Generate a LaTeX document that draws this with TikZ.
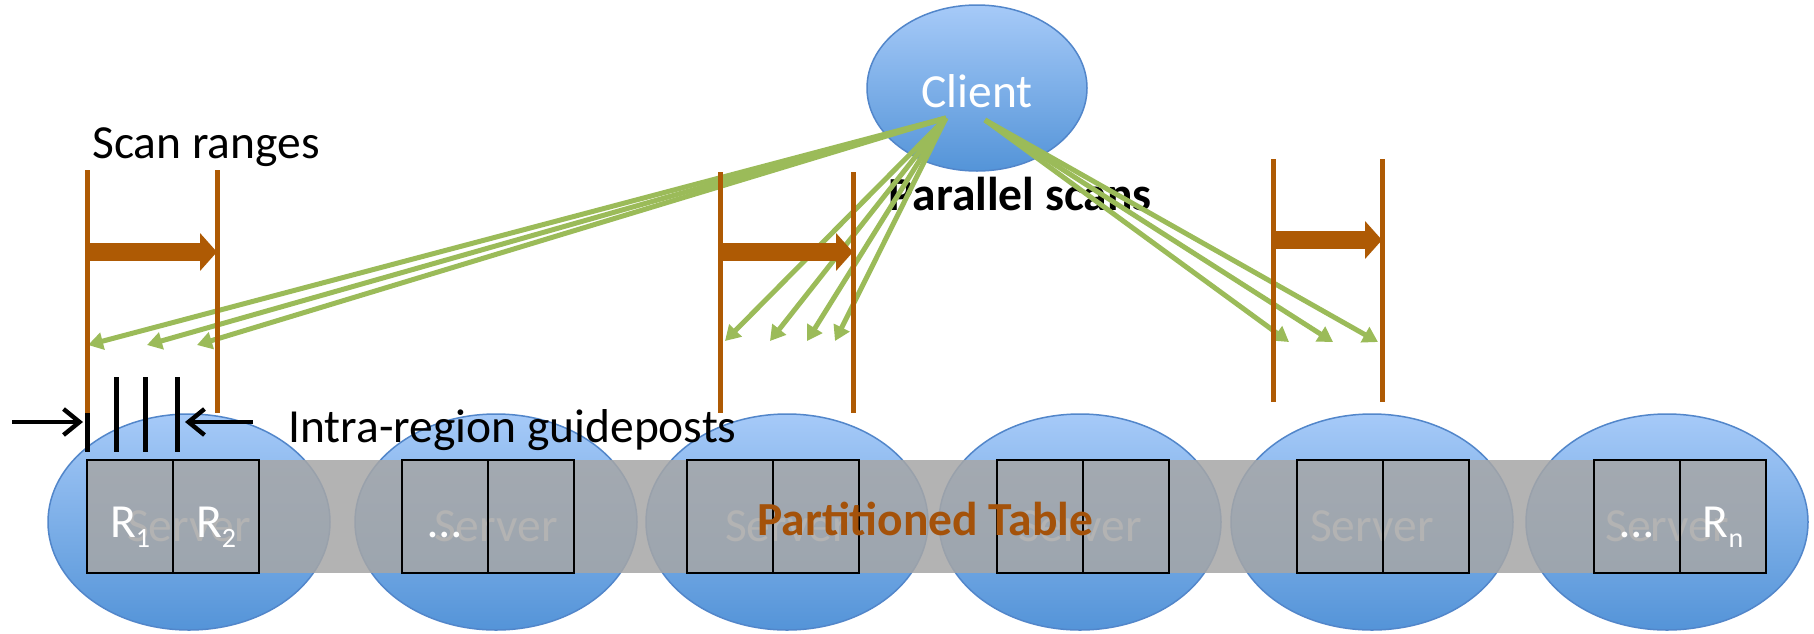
\documentclass[tikz,border=0pt]{standalone}
\usepackage{fontspec}
\setmainfont{Carlito}
\usetikzlibrary{arrows.meta,shapes.geometric}
\definecolor{org}{RGB}{174,90,4}
\definecolor{ptc}{RGB}{164,82,10}
\definecolor{grn}{RGB}{155,187,89}
\definecolor{btop}{RGB}{166,202,248}
\definecolor{bbot}{RGB}{84,148,216}
\definecolor{bord}{RGB}{82,134,202}
\definecolor{bandc}{RGB}{166,166,166}
\newcommand\tfs{\fontsize{23.75pt}{28pt}\selectfont}
\newcommand\subfs{\fontsize{14pt}{16pt}\selectfont}
\begin{document}
\begin{tikzpicture}[x=0.5pt,y=-0.5pt,
  blob/.style={ellipse, draw=bord, line width=0.75pt, top color=btop, bottom color=bbot, inner sep=0pt},
  server/.style={blob, minimum width=141pt, minimum height=108pt},
  wtxt/.style={text=white, font=\tfs, anchor=base, inner sep=0pt},
  region/.style={draw=black, line width=1pt, minimum width=43pt, minimum height=56.5pt, inner sep=0pt},
  lbl/.style={text=black, font=\tfs, anchor=base west, inner sep=0pt},
  orline/.style={draw=org, line width=2.5pt},
  thickarr/.style={draw=org, line width=9pt, -{Triangle[length=8.5pt,width=18.5pt]}},
  garrow/.style={draw=grn, line width=2.5pt, -{Triangle[length=7.5pt,width=8.5pt]}},
  gpost/.style={draw=black, line width=2.5pt},
  barrow/.style={draw=black, line width=2.2pt, -{Straight Barb[length=8pt,width=13pt]}}
]
\useasboundingbox (0,0) rectangle (1814,633);
\fill[white] (0,0) rectangle (1814,633);

% servers
\foreach \i/\cx in {1/189,2/496,3/787,4/1080,5/1372,6/1667} {
  \node[server] (s\i) at (\cx,522) {};
  \node[wtxt] (st\i) at (\cx,541) {Server};
}
% partitioned table band
\fill[bandc, opacity=0.85] (87,460) rectangle (1766,573);
\foreach \g/\x in {1/87,2/402,3/687,4/997,5/1297,6/1594} {
  \node[region] (b\g a) at (\x+43,516.5) {};
  \node[region] (b\g b) at (\x+129,516.5) {};
}
\node[wtxt] (r1) at (130,537) {R\raisebox{-5pt}{\subfs 1}};
\node[wtxt] (r2) at (216,537) {R\raisebox{-5pt}{\subfs 2}};
\node[wtxt] (d1) at (445,537) {…};
\node[wtxt] (d2) at (1637,537) {…};
\node[wtxt] (rn) at (1723,537) {R\raisebox{-5pt}{\subfs n}};
\node[anchor=base west, font=\tfs\bfseries, text=ptc, inner sep=0pt] (pt) at (757,535) {Partitioned Table};

% client
\node[blob, minimum width=110pt, minimum height=83pt] (client) at (977,88) {};
\node[wtxt] (clt) at (977,107) {Client};
\node[lbl, font=\tfs\bfseries] (par) at (888,210) {Parallel scans};
\node[lbl] (scan) at (92,158) {Scan ranges};
\node[lbl] (intra) at (288,442) {Intra-region guideposts};

% green scan arrows
\coordinate (cL) at (946,118);
\coordinate (cR) at (985,120);
\foreach \n/\x in {a/88,b/147,c/197} {\coordinate (tl\n) at (\x,345); \draw[garrow] (cL) -- (tl\n);}
\foreach \n/\x in {a/725,b/770,c/807,d/835} {\coordinate (tm\n) at (\x,341); \draw[garrow] (cL) -- (tm\n);}
\foreach \n/\x in {a/1289,b/1333,c/1378} {\coordinate (tr\n) at (\x,342); \draw[garrow] (cR) -- (tr\n);}

% guideposts
\foreach \n/\x in {a/87,b/116,c/145,d/177} {
  \coordinate (gp\n t) at (\x,377); \coordinate (gp\n b) at (\x,452);
  \draw[gpost] (gp\n t) -- (gp\n b);
}
\coordinate (ba1) at (12,422); \coordinate (ba2) at (83,422);
\coordinate (bb1) at (253,422); \coordinate (bb2) at (185,422);
\draw[barrow] (ba1) -- (ba2);
\draw[barrow] (bb1) -- (bb2);

% scan ranges (orange)
\foreach \n/\xa/\xb/\yt/\yb/\ya in {L/87/217/170/413/252, M/720/853/172/413/252, R/1273/1382/159/402/240} {
  \coordinate (o\n1t) at (\xa,\yt); \coordinate (o\n1b) at (\xa,\yb);
  \coordinate (o\n2t) at (\xb,\yt); \coordinate (o\n2b) at (\xb,\yb);
  \coordinate (o\n a) at (\xa+2,\ya); \coordinate (o\n b) at (\xb,\ya);
  \draw[orline] (o\n1t) -- (o\n1b);
  \draw[orline] (o\n2t) -- (o\n2b);
  \draw[thickarr] (o\n a) -- (o\n b);
}
\end{tikzpicture}
\end{document}
